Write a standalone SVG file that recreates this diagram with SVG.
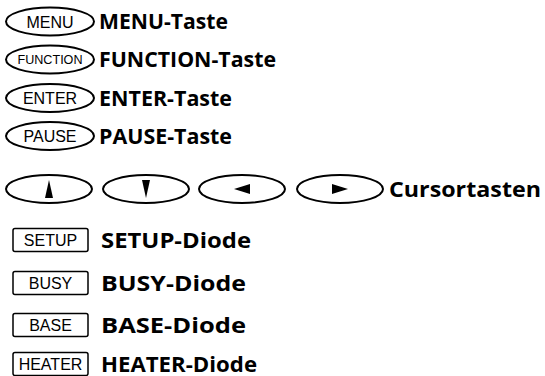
<svg xmlns="http://www.w3.org/2000/svg" width="545" height="376" viewBox="0 0 545 376">
<style>
.btn{fill:#fff;stroke:#000;stroke-width:2}
.led{fill:#fff;stroke:#000;stroke-width:1.5}
.in{font-family:"Liberation Sans",Arial,sans-serif;font-size:16px;fill:#000;text-anchor:middle}
.lbl{font-family:"Open Sans","Noto Sans",sans-serif;font-weight:bold;font-size:21px;fill:#000}
.tri{fill:#000}
</style>
<g id="menu">
<ellipse class="btn" cx="50" cy="21.5" rx="44" ry="14"/>
<text class="in" x="50" y="27.5">MENU</text>
<text class="lbl" x="99" y="29" textLength="129" lengthAdjust="spacingAndGlyphs">MENU-Taste</text>
</g>
<g id="function">
<ellipse class="btn" cx="50" cy="59.5" rx="44" ry="14"/>
<text class="in" x="50" y="64" style="font-size:12px" textLength="65" lengthAdjust="spacingAndGlyphs">FUNCTION</text>
<text class="lbl" x="99" y="67" textLength="177" lengthAdjust="spacingAndGlyphs">FUNCTION-Taste</text>
</g>
<g id="enter">
<ellipse class="btn" cx="50" cy="98" rx="44" ry="14"/>
<text class="in" x="50" y="104">ENTER</text>
<text class="lbl" x="99" y="105.5" textLength="133" lengthAdjust="spacingAndGlyphs">ENTER-Taste</text>
</g>
<g id="pause">
<ellipse class="btn" cx="50" cy="136" rx="44" ry="14"/>
<text class="in" x="50" y="142">PAUSE</text>
<text class="lbl" x="99" y="143.5" textLength="133" lengthAdjust="spacingAndGlyphs">PAUSE-Taste</text>
</g>
<g id="cursor">
<ellipse class="btn" cx="49" cy="189" rx="43" ry="14"/>
<polygon class="tri" points="49,180 45,198 53,198"/>
<ellipse class="btn" cx="146" cy="189" rx="43" ry="14"/>
<polygon class="tri" points="146,198 142,180 150,180"/>
<ellipse class="btn" cx="242" cy="189" rx="43" ry="14"/>
<polygon class="tri" points="234,189 250,184 250,194"/>
<ellipse class="btn" cx="340" cy="189" rx="43" ry="14"/>
<polygon class="tri" points="348,189 332,184 332,194"/>
<text class="lbl" x="389" y="196.5" textLength="152" lengthAdjust="spacingAndGlyphs">Cursortasten</text>
</g>
<g id="setup">
<rect class="led" x="13" y="228.5" width="75" height="23" rx="2"/>
<text class="in" x="50.5" y="246">SETUP</text>
<text class="lbl" x="101" y="247.5" textLength="150" lengthAdjust="spacingAndGlyphs">SETUP-Diode</text>
</g>
<g id="busy">
<rect class="led" x="13" y="271.5" width="75" height="23" rx="2"/>
<text class="in" x="50.5" y="289">BUSY</text>
<text class="lbl" x="101" y="290.5" textLength="145" lengthAdjust="spacingAndGlyphs">BUSY-Diode</text>
</g>
<g id="base">
<rect class="led" x="13" y="313.5" width="75" height="23" rx="2"/>
<text class="in" x="50.5" y="331">BASE</text>
<text class="lbl" x="101" y="332.5" textLength="145" lengthAdjust="spacingAndGlyphs">BASE-Diode</text>
</g>
<g id="heater">
<rect class="led" x="13" y="352.5" width="75" height="23" rx="2"/>
<text class="in" x="50.5" y="370">HEATER</text>
<text class="lbl" x="101" y="371.5" textLength="156" lengthAdjust="spacingAndGlyphs">HEATER-Diode</text>
</g>
</svg>
